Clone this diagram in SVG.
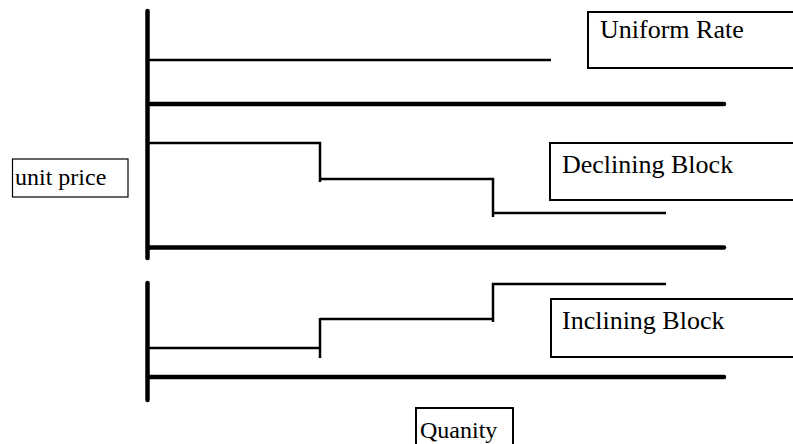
<svg xmlns="http://www.w3.org/2000/svg" width="793" height="444" viewBox="0 0 793 444">
<style>
.axis{stroke:#000;stroke-width:4.5;stroke-linecap:round;fill:none}
.line{stroke:#000;stroke-width:2.5;fill:none}
.box{fill:#fff;stroke:#000;stroke-width:2}
.tbox{fill:#fff;stroke:#000;stroke-width:1.2}
.lbl{font-family:"Liberation Serif","Times New Roman",serif;fill:#000}
</style>
<rect width="793" height="444" fill="#fff"/>
<g id="connectors">
<line class="axis" x1="147.5" y1="11" x2="147.5" y2="258"/>
<line class="axis" x1="147.5" y1="283" x2="147.5" y2="400"/>
<line class="axis" x1="148" y1="104" x2="724" y2="104"/>
<line class="axis" x1="148" y1="247.5" x2="724" y2="247.5"/>
<line class="axis" x1="148" y1="377" x2="724" y2="377"/>
<line class="line" x1="148" y1="60" x2="551" y2="60"/>
<polyline class="line" points="148,143 320,143 320,182"/>
<polyline class="line" points="320,179 493,179 493,217"/>
<line class="line" x1="493" y1="213" x2="666" y2="213"/>
<line class="line" x1="148" y1="348" x2="320" y2="348"/>
<line class="line" x1="320" y1="318" x2="320" y2="358"/>
<line class="line" x1="320" y1="319" x2="493" y2="319"/>
<polyline class="line" points="493,322 493,284 666,284"/>
</g>
<g id="uniform-rate">
<rect class="box" x="588" y="12" width="210" height="56"/>
<text class="lbl" x="600" y="38" font-size="26">Uniform Rate</text>
</g>
<g id="declining-block">
<rect class="box" x="550" y="143" width="250" height="57"/>
<text class="lbl" x="562" y="173" font-size="26">Declining Block</text>
</g>
<g id="inclining-block">
<rect class="box" x="551" y="299" width="250" height="58"/>
<text class="lbl" x="562" y="329" font-size="26">Inclining Block</text>
</g>
<g id="unit-price">
<rect class="tbox" x="12.5" y="159" width="115.5" height="38"/>
<text class="lbl" x="15" y="185" font-size="24">unit price</text>
</g>
<g id="quanity">
<rect class="box" x="416" y="408" width="97" height="45"/>
<text class="lbl" x="420" y="438" font-size="24">Quanity</text>
</g>
</svg>
